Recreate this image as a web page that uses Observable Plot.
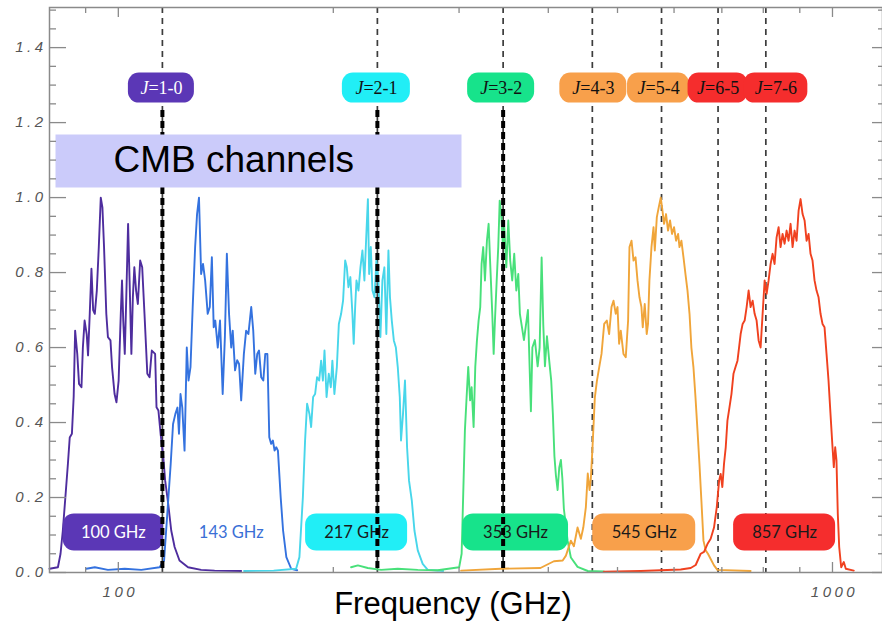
<!DOCTYPE html>
<html><head><meta charset="utf-8">
<script src="https://cdn.jsdelivr.net/npm/d3@7"></script>
<script src="https://cdn.jsdelivr.net/npm/@observablehq/plot@0.6"></script>
<style>html,body{margin:0;padding:0;background:#fff}</style>
</head><body><div id="chart"></div>
<script>
// ---------- data: [frequency GHz, normalised transmission] ----------
const band100 = [[80.1,0.01],[82.3,0.014],[83.0,0.05],[83.6,0.11],[84.3,0.20],[85.0,0.29],[85.5,0.36],[86.1,0.37],[86.6,0.47],[87.0,0.645],[87.6,0.583],[88.1,0.503],[88.8,0.494],[89.2,0.60],[89.7,0.672],[90.3,0.636],[90.7,0.579],[91.2,0.69],[91.7,0.81],[92.2,0.70],[92.7,0.69],[93.3,0.752],[93.9,0.868],[94.5,1.0],[95.0,0.974],[95.5,0.868],[96.2,0.69],[96.7,0.628],[97.5,0.619],[98.0,0.548],[98.8,0.476],[99.4,0.454],[100.1,0.512],[100.8,0.69],[101.2,0.779],[101.6,0.672],[102.1,0.583],[102.6,0.734],[103.2,0.93],[103.7,0.779],[104.3,0.583],[104.8,0.734],[105.3,0.814],[105.9,0.752],[106.5,0.716],[107.3,0.832],[108.0,0.814],[108.8,0.69],[109.8,0.53],[110.6,0.521],[111.4,0.592],[112.6,0.583],[113.1,0.441],[113.8,0.432],[114.6,0.37],[115.5,0.316],[116.3,0.245],[117.3,0.192],[118.6,0.112],[119.9,0.068],[121.8,0.032],[125.2,0.014],[130.6,0.007],[136.4,0.005],[148.6,0.004]];
const band143 = [[90.2,0.01],[92.7,0.014],[96.7,0.007],[102.1,0.01],[107.7,0.007],[114.2,0.014],[115.9,0.032],[117.1,0.156],[118.4,0.29],[119.3,0.396],[120.2,0.423],[121.0,0.44],[121.6,0.37],[122.2,0.476],[122.9,0.44],[123.8,0.325],[124.7,0.60],[125.4,0.512],[126.2,0.548],[127.1,0.708],[128.1,0.868],[128.9,0.956],[129.7,1.0],[130.6,0.796],[131.4,0.823],[132.3,0.779],[133.4,0.69],[134.3,0.708],[135.2,0.841],[136.0,0.654],[136.7,0.672],[137.8,0.60],[138.8,0.672],[140.0,0.476],[141.0,0.628],[141.9,0.85],[142.9,0.69],[143.9,0.60],[144.6,0.645],[145.7,0.539],[146.7,0.566],[147.6,0.556],[148.6,0.459],[149.9,0.583],[151.0,0.645],[152.1,0.636],[153.5,0.708],[154.5,0.645],[155.5,0.53],[156.5,0.583],[157.4,0.592],[158.5,0.521],[159.6,0.512],[160.6,0.583],[161.7,0.583],[162.7,0.361],[163.7,0.343],[164.6,0.352],[165.5,0.325],[166.4,0.334],[167.3,0.325],[168.8,0.20],[170.1,0.112],[171.9,0.041],[174.6,0.01],[178.0,0.006]];
const band217 = [[150,0.004],[165,0.005],[177.4,0.01],[179.3,0.041],[181.3,0.20],[182.6,0.352],[183.8,0.45],[185.2,0.423],[186.2,0.388],[187.4,0.468],[188.6,0.476],[189.8,0.521],[191.1,0.512],[192.3,0.565],[193.4,0.512],[194.4,0.592],[195.7,0.468],[197.1,0.53],[198.4,0.494],[199.4,0.565],[200.7,0.476],[202.3,0.548],[203.6,0.663],[205.1,0.69],[206.4,0.725],[207.8,0.832],[208.9,0.814],[210.0,0.761],[211.3,0.788],[212.7,0.69],[213.6,0.61],[214.6,0.708],[215.5,0.779],[216.9,0.752],[218.3,0.814],[219.7,0.859],[221.1,0.779],[222.6,0.912],[223.6,0.996],[224.5,0.796],[225.7,0.868],[226.9,0.752],[228.4,0.734],[229.8,0.832],[231.3,0.779],[232.8,0.628],[234.3,0.779],[235.8,0.814],[237.3,0.636],[238.9,0.859],[240.1,0.734],[241.5,0.672],[243.1,0.619],[244.7,0.60],[246.2,0.548],[247.8,0.468],[248.8,0.352],[250.4,0.423],[252.0,0.512],[253.7,0.334],[255.3,0.245],[257.6,0.192],[259.8,0.112],[262.6,0.059],[266.8,0.023],[271.2,0.007],[285,0.004]];
const band353 = [[211.8,0.014],[216.5,0.019],[223.5,0.012],[233.3,0.007],[246.2,0.01],[262.6,0.007],[280,0.006],[300.1,0.014],[302.5,0.05],[304.4,0.245],[305.7,0.379],[307.4,0.468],[309.0,0.548],[310.9,0.459],[312.4,0.494],[314.4,0.388],[316.1,0.548],[317.8,0.619],[319.5,0.672],[321.2,0.708],[322.6,0.823],[324.3,0.868],[326.1,0.779],[328.2,0.885],[330.0,0.93],[331.7,0.823],[333.9,0.69],[335.4,0.583],[336.8,0.672],[338.7,0.779],[340.4,0.868],[342.0,0.992],[343.7,0.956],[345.6,0.868],[347.1,0.921],[349.4,0.814],[351.6,0.939],[353.8,0.832],[356.1,0.779],[358.4,0.85],[360.8,0.752],[363.1,0.796],[365.0,0.69],[369.8,0.62],[374.6,0.70],[378.2,0.43],[380.0,0.60],[383.1,0.62],[386.5,0.55],[389.0,0.60],[391.5,0.84],[393.6,0.66],[395.7,0.55],[398.3,0.63],[401.2,0.565],[403.8,0.512],[406.0,0.42],[408.0,0.31],[409.9,0.26],[412.2,0.22],[414.4,0.28],[416.6,0.30],[418.6,0.25],[420.6,0.17],[425.7,0.085],[430.2,0.04],[439.6,0.015],[454.3,0.004],[478.4,0.003]];
const band545 = [[302,0.005],[343,0.01],[390,0.012],[407.3,0.03],[419.0,0.032],[423.4,0.045],[430.2,0.085],[434.4,0.07],[439.6,0.12],[444.3,0.09],[447.8,0.12],[451.5,0.174],[454.3,0.264],[456.9,0.22],[458.8,0.25],[461.3,0.334],[464.8,0.467],[467.8,0.51],[471.4,0.548],[474.9,0.583],[479.0,0.663],[483.1,0.672],[486.7,0.636],[490.4,0.708],[493.6,0.725],[497.2,0.69],[500.0,0.708],[502.6,0.61],[505.3,0.645],[509.7,0.583],[513.5,0.574],[517.4,0.672],[519.7,0.868],[523.1,0.885],[526.5,0.832],[529.9,0.841],[533.3,0.779],[536.7,0.734],[540.1,0.708],[542.4,0.654],[545.9,0.716],[549.4,0.636],[551.7,0.663],[554.2,0.779],[557.9,0.868],[561.6,0.921],[563.9,0.859],[567.6,0.948],[571.1,0.974],[574.8,1.0],[578.0,0.965],[581.0,0.93],[584.7,0.956],[588.5,0.912],[592.3,0.939],[596.1,0.903],[600.0,0.921],[603.9,0.885],[607.9,0.903],[610.6,0.868],[614.4,0.885],[618.5,0.841],[622.5,0.796],[626.6,0.752],[630.7,0.69],[634.5,0.60],[638.7,0.548],[642.9,0.468],[647.1,0.379],[651.2,0.29],[655.3,0.192],[659.7,0.085],[664.4,0.059],[669.3,0.05],[675.2,0.036],[682.5,0.019],[690.0,0.007],[768,0.004]];
const band857 = [[478.4,0.002],[538.9,0.004],[613.0,0.008],[633.1,0.012],[643.4,0.02],[653.8,0.05],[660.9,0.055],[668.2,0.076],[675.2,0.09],[682.5,0.12],[688.6,0.174],[693.8,0.245],[697.3,0.263],[701.1,0.228],[704.9,0.29],[708.8,0.334],[712.7,0.405],[717.3,0.44],[722.0,0.476],[726.7,0.53],[731.5,0.548],[736.2,0.565],[739.9,0.60],[743.7,0.636],[748.5,0.663],[753.4,0.672],[758.2,0.708],[763.1,0.752],[768.0,0.708],[773.0,0.725],[778.0,0.69],[783.0,0.672],[788.1,0.619],[793.2,0.60],[798.3,0.69],[803.5,0.779],[808.7,0.743],[813.9,0.779],[819.1,0.823],[824.4,0.85],[829.7,0.823],[835.1,0.894],[840.5,0.921],[845.9,0.868],[851.4,0.903],[856.9,0.877],[862.5,0.912],[868.0,0.885],[873.6,0.93],[879.3,0.868],[885.0,0.912],[890.7,0.885],[896.5,0.965],[902.2,0.996],[908.1,0.956],[914.0,0.939],[919.9,0.885],[925.8,0.903],[931.7,0.85],[937.7,0.832],[943.8,0.779],[949.9,0.752],[956.1,0.734],[962.2,0.69],[968.4,0.663],[974.7,0.654],[981.0,0.583],[987.3,0.512],[993.6,0.423],[1000.1,0.334],[1004.3,0.281],[1008.8,0.334],[1013.0,0.299],[1017.3,0.156],[1021.9,0.068],[1028.5,0.014],[1037.2,0.028],[1043.9,0.01],[1071.0,0.005]];

// CO rotational lines
const coFreqs = [115.27, 230.54, 345.80, 461.04, 576.27, 691.47, 806.65];
const coTransitions = ["1-0", "2-1", "3-2", "4-3", "5-4", "6-5", "7-6"];
const cmbLines = [115.27, 230.54, 345.80];

// band labels
const bandNames = ["100", "143", "217", "353", "545", "857"];
const bandFreqs = [100, 143, 217, 353, 545, 857];

// axis ticks
const yMajorTicks = [0, 0.2, 0.4, 0.6, 0.8, 1.0, 1.2, 1.4];
const yMinorTicks = d3.range(0, 1.51, 0.05).filter(v => Math.abs(Math.round(v / 0.2) * 0.2 - v) > 1e-6);
const xMajorTicks = [100, 1000];
const xMinorTicks = [90, 200, 300, 400, 500, 600, 700, 800, 900];

// ---------- styling ----------
const W = 882, H = 621;
const mL = 49, mR = 0, mT = 7, mB = 49;
const fw = W - mL - mR, fh = H - mT - mB;
const axisGray = "#8a8a8a";
const lineColors = ["#4e2d9e", "#3472df", "#48d6ea", "#48e07a", "#f0a53a", "#f0411f"];
const bandBox = {
  "100": {fill: "#5b37b6", text: "#ffffff", dx: -5, w: 100},
  "143": {fill: null, text: "#3a6fd6", dx: 2, w: 0},
  "217": {fill: "#21eef6", text: "#1a1a1a", dx: -2, w: 102},
  "353": {fill: "#17e38b", text: "#1a1a1a", dx: 6, w: 106},
  "545": {fill: "#f8a04b", text: "#1a1a1a", dx: 0, w: 103},
  "857": {fill: "#f52d2d", text: "#1a1a1a", dx: 0, w: 102}
};
const coBox = {
  "1-0": {fill: "#5b37b6", text: "#ffffff", dx: -1, w: 66},
  "2-1": {fill: "#21eef6", text: "#111", dx: -1, w: 68},
  "3-2": {fill: "#17e38b", text: "#111", dx: -2, w: 67},
  "4-3": {fill: "#f8a04b", text: "#111", dx: 1, w: 67},
  "5-4": {fill: "#f8a04b", text: "#111", dx: -3, w: 62},
  "6-5": {fill: "#f52d2d", text: "#111", dx: 0, w: 60},
  "7-6": {fill: "#f52d2d", text: "#111", dx: 10, w: 64}
};
const yTop = 1.292;   // level of CO line labels
const yBot = 0.107;   // level of band labels

const bands = [band100, band143, band217, band353, band545, band857];
const coRows = coFreqs.map((f, i) => ({f, t: coTransitions[i]}));
const bandRows = bandFreqs.map((f, i) => ({f, name: bandNames[i]}));

const marks = [];
// thin dashed CO lines
marks.push(Plot.ruleX(coFreqs, {x: d => d, stroke: "#3c3c3c", strokeWidth: 1.7, strokeDasharray: "6,5"}));
// bandpass curves
bands.forEach((b, i) => marks.push(Plot.line(b, {x: d => d[0], y: d => d[1], stroke: lineColors[i], strokeWidth: 1.9})));
// band label boxes + text
bandRows.forEach(r => {
  const s = bandBox[r.name];
  if (s.fill) marks.push(Plot.rect([r], {x1: d => d.f, x2: d => d.f, y1: yBot, y2: yBot,
    insetLeft: -s.w / 2, insetRight: -s.w / 2, insetTop: -18.5, insetBottom: -18.5,
    dx: s.dx, rx: 11, fill: s.fill}));
  marks.push(Plot.text([r], {x: d => d.f, y: yBot, text: d => d.name + " GHz", dx: s.dx,
    fill: s.text, fontSize: 16.5, fontFamily: "Lato, 'Open Sans', sans-serif"}));
});
// CO label boxes + text
coRows.forEach(r => {
  const s = coBox[r.t];
  marks.push(Plot.rect([r], {x1: d => d.f, x2: d => d.f, y1: yTop, y2: yTop,
    insetLeft: -s.w / 2, insetRight: -s.w / 2, insetTop: -15, insetBottom: -15,
    dx: s.dx, rx: 11, fill: s.fill}));
  marks.push(Plot.text([r], {x: d => d.f, y: yTop, text: () => "J", dx: s.dx - 13, textAnchor: "end",
    fill: s.text, fontSize: 18, fontStyle: "italic", fontFamily: "'Liberation Serif', 'DejaVu Serif', serif"}));
  marks.push(Plot.text([r], {x: d => d.f, y: yTop, text: d => "=" + d.t, dx: s.dx - 13, textAnchor: "start",
    fill: s.text, fontSize: 18, fontFamily: "'Liberation Serif', 'DejaVu Serif', serif"}));
});
// thick dashed lines for CMB channels
marks.push(Plot.ruleX(cmbLines, {x: d => d, insetTop: 103, stroke: "#000", strokeWidth: 4, strokeDasharray: "7,4"}));
// CMB channels box
marks.push(Plot.frame({fill: "#cbcbfa", stroke: "none", insetLeft: 6, insetRight: 421, insetTop: 127, insetBottom: 385}));
marks.push(Plot.text(["CMB channels"], {frameAnchor: "top-left", textAnchor: "start", lineAnchor: "middle",
  dx: 64, dy: 153, fontSize: 37, fill: "#000", fontFamily: "'Liberation Sans', Arial, sans-serif"}));
// frame and ticks
marks.push(Plot.frame({stroke: axisGray, strokeWidth: 1.5}));
marks.push(Plot.tickY(yMinorTicks, {y: d => d, insetRight: fw - 7, stroke: axisGray, strokeWidth: 1.3}));
marks.push(Plot.tickY(yMajorTicks, {y: d => d, insetRight: fw - 17, stroke: axisGray, strokeWidth: 1.3}));
marks.push(Plot.tickY(yMinorTicks, {y: d => d, insetLeft: fw - 4, stroke: axisGray, strokeWidth: 1.3}));
marks.push(Plot.tickY(yMajorTicks, {y: d => d, insetLeft: fw - 10, stroke: axisGray, strokeWidth: 1.3}));
marks.push(Plot.tickX(xMinorTicks, {x: d => d, insetTop: fh - 5, stroke: axisGray, strokeWidth: 1.3}));
marks.push(Plot.tickX(xMajorTicks, {x: d => d, insetTop: fh - 10, stroke: axisGray, strokeWidth: 1.3}));
marks.push(Plot.tickX(xMinorTicks, {x: d => d, insetBottom: fh - 6, stroke: axisGray, strokeWidth: 1.3}));
marks.push(Plot.tickX(xMajorTicks, {x: d => d, insetBottom: fh - 10, stroke: axisGray, strokeWidth: 1.3}));
// tick labels
marks.push(Plot.text(yMajorTicks, {y: d => d, text: d => d3.format(".1f")(d), frameAnchor: "left", textAnchor: "end",
  dx: -3, fill: "#555", fontSize: 15, fontStyle: "italic", fontFamily: "'Liberation Sans', Arial, sans-serif"}));
marks.push(Plot.text(xMajorTicks, {x: d => d, text: d => String(d), frameAnchor: "bottom", lineAnchor: "middle",
  dy: 20, dx: 2, fill: "#555", fontSize: 15, fontStyle: "italic", fontFamily: "'Liberation Sans', Arial, sans-serif"}));
// axis title
marks.push(Plot.text(["Frequency (GHz)"], {frameAnchor: "bottom", lineAnchor: "middle", dy: 32, dx: -13,
  fontSize: 31, fill: "#000", fontFamily: "'Liberation Sans', Arial, sans-serif"}));

const chart = Plot.plot({
  width: W, height: H,
  marginLeft: mL, marginRight: mR, marginTop: mT, marginBottom: mB,
  x: {type: "log", domain: [80.1, 1175], axis: null},
  y: {domain: [0, 1.507], axis: null},
  style: {background: "#fff", overflow: "visible"},
  marks
});
d3.select(chart).selectAll("text")
  .filter(function () { return /^(\d\.\d|100|1000)$/.test(this.textContent); })
  .style("letter-spacing", "3.5px");
document.getElementById("chart").appendChild(chart);
</script>
</body></html>
